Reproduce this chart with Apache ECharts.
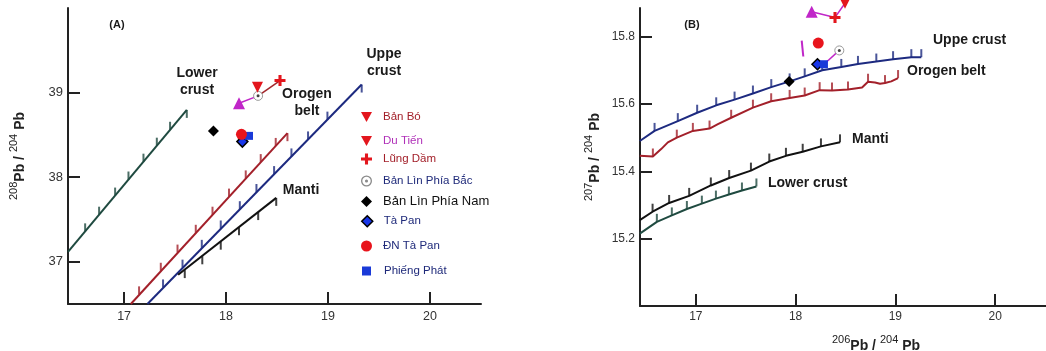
<!DOCTYPE html>
<html><head><meta charset="utf-8">
<script src="https://cdn.jsdelivr.net/npm/echarts@6/dist/echarts.min.js"></script>
<style>html,body{margin:0;padding:0;background:#fff}#c{width:1046px;height:351px}</style>
</head><body><div id="c"></div>
<script>
// ---------- axis ticks ----------
const xTicksA = [17, 18, 19, 20];
const yTicksA = [37, 38, 39];
const xTicksB = [17, 18, 19, 20];
const yTicksB = [15.2, 15.4, 15.6, 15.8];

// ---------- samples (same order in every list) ----------
const sampleNames = ['Bản Bó', 'Du Tiến', 'Lũng Dầm', 'Bản Lìn Phía Bắc', 'Bản Lìn Phía Nam', 'Tà Pan', 'ĐN Tà Pan', 'Phiếng Phát'];
// panel A: 206Pb/204Pb, 208Pb/204Pb
const samplesA = [[18.308, 39.064], [18.127, 38.874], [18.529, 39.142], [18.314, 38.961], [17.876, 38.547], [18.16, 38.42], [18.151, 38.507], [18.225, 38.488]];
// panel B: 206Pb/204Pb, 207Pb/204Pb
const samplesB = [[18.495, 15.899], [18.161, 15.874], [18.395, 15.857], [18.438, 15.759], [17.935, 15.667], [18.219, 15.718], [18.227, 15.781], [18.284, 15.718]];
// connector pairs (indices into samples)
const linksA = [[3, 2], [3, 1]];
const linksB = [[1, 2], [2, 0], [3, 7]];
const extraSegmentB = [[18.061, 15.788], [18.077, 15.741]];

// ---------- model curves, panel A ----------
const lowerCrustA = [[16.45, 37.116], [17.615, 38.795]];
const lowerCrustATicks = [[16.618, 37.359], [16.755, 37.556], [16.912, 37.782], [17.043, 37.972], [17.19, 38.183], [17.321, 38.372], [17.451, 38.56], [17.615, 38.795]];
const orogenA = [[17.066, 36.5], [18.602, 38.52]];
const orogenATicks = [[17.147, 36.614], [17.36, 36.893], [17.524, 37.108], [17.703, 37.342], [17.867, 37.556], [18.029, 37.77], [18.193, 37.985], [18.34, 38.178], [18.487, 38.369], [18.602, 38.52]];
const upperA = [[17.229, 36.5], [19.33, 39.095]];
const upperATicks = [[17.382, 36.696], [17.573, 36.93], [17.762, 37.164], [17.948, 37.393], [18.135, 37.621], [18.298, 37.824], [18.471, 38.036], [18.641, 38.245], [18.804, 38.446], [18.994, 38.68], [19.33, 39.095]];
const mantiA = [[17.53, 36.845], [18.492, 37.755]];
const mantiATicks = [[17.595, 36.901], [17.767, 37.064], [17.948, 37.237], [18.127, 37.408], [18.315, 37.587], [18.492, 37.755]];

// ---------- model curves, panel B ----------
const upperB = [[16.438, 15.490], [16.586, 15.520], [16.819, 15.549], [17.013, 15.574], [17.204, 15.596], [17.388, 15.613], [17.572, 15.631], [17.756, 15.650], [17.940, 15.667], [18.091, 15.682], [18.267, 15.700], [18.458, 15.710], [18.625, 15.719], [18.809, 15.726], [18.977, 15.733], [19.160, 15.739], [19.260, 15.739]];
const orogenB = [[16.438, 15.446], [16.569, 15.444], [16.652, 15.466], [16.719, 15.486], [16.809, 15.500], [16.970, 15.520], [17.137, 15.527], [17.221, 15.540], [17.354, 15.559], [17.572, 15.589], [17.755, 15.608], [17.940, 15.618], [18.091, 15.625], [18.241, 15.641], [18.365, 15.640], [18.525, 15.643], [18.666, 15.649], [18.726, 15.666], [18.796, 15.664], [18.846, 15.660], [18.896, 15.662], [18.959, 15.667], [19.027, 15.677]];
const orogenBTicks = [[16.569, 15.444], [16.809, 15.500], [16.970, 15.520], [17.137, 15.527], [17.354, 15.559], [17.572, 15.589], [17.755, 15.608], [17.940, 15.618], [18.091, 15.625], [18.241, 15.641], [18.365, 15.640], [18.525, 15.643], [18.726, 15.666], [18.896, 15.662], [19.027, 15.677]];
const mantiB = [[16.438, 15.255], [16.566, 15.280], [16.732, 15.306], [16.933, 15.327], [17.15, 15.358], [17.334, 15.380], [17.552, 15.402], [17.736, 15.429], [17.903, 15.446], [18.071, 15.458], [18.254, 15.474], [18.445, 15.486]];
const lowerCrustB = [[16.438, 15.215], [16.609, 15.250], [16.759, 15.269], [16.910, 15.288], [17.060, 15.304], [17.201, 15.319], [17.331, 15.331], [17.462, 15.343], [17.607, 15.355]];

// ---------- styles ----------
const FONT = '"Liberation Sans", Arial, sans-serif';
const C_GREEN = '#1f4a40', C_RED = '#a3202a', C_BLUE = '#1d2a80', C_BLACK = '#111';
const TICK = 'path://M0,0L2,0L2,10L0,10Z';
const DOWN_TRI = 'path://M0,0L10,0L5,9Z';
const CROSS = 'path://M3.6,0H6.4V3.6H10V6.4H6.4V10H3.6V6.4H0V3.6H3.6Z';
const RINGDOT = 'path://M5,0A5,5,0,1,1,4.99,0ZM5,1.2A3.8,3.8,0,1,0,5.01,1.2ZM5,3.6A1.4,1.4,0,1,1,4.99,3.6Z';
const markerStyle = [
  { symbol: DOWN_TRI, size: 11, color: '#e3161d' },
  { symbol: 'triangle', size: 12, color: '#c026c8' },
  { symbol: CROSS, size: 11, color: '#e3161d' },
  { symbol: 'circle', size: 9, color: '#fff', border: '#999', bw: 1 },
  { symbol: 'diamond', size: 11, color: '#000' },
  { symbol: 'diamond', size: 11, color: '#1836e8', border: '#000', bw: 1.5 },
  { symbol: 'circle', size: 11, color: '#e8141c' },
  { symbol: 'rect', size: 8, color: '#1a3ad8' }
];
const drawOrder = [5, 7, 6, 4, 3, 1, 0, 2];
const legendIcon = [DOWN_TRI, DOWN_TRI, CROSS, RINGDOT, 'diamond', 'diamond', 'circle', 'rect'];
const legendIconColor = ['#e3161d', '#e3161d', '#e3161d', '#8a8a8a', '#000', '#1836e8', '#e8141c', '#1a3ad8'];
const legendTextColor = ['#a3202a', '#b030b8', '#a3202a', '#1f2a7a', '#111', '#1f2a7a', '#1f2a7a', '#1f2a7a'];
const legendRowY = [118, 142, 160, 182, 202, 222, 247, 272];

function curve(grid, line, ticks, color, dir, endDir) {
  return [
    { type: 'line', xAxisIndex: grid, yAxisIndex: grid, data: line, symbol: 'none', silent: true, z: 2,
      lineStyle: { color: color, width: 2 } },
    { type: 'scatter', xAxisIndex: grid, yAxisIndex: grid, silent: true, z: 2, symbol: TICK, symbolSize: [2, 8],
      itemStyle: { color: color },
      data: ticks.map((p, i) => ({ value: p, symbolOffset: [0, 4 * (i === ticks.length - 1 ? endDir : dir)] })) }
  ];
}

const series = [];
series.push(...curve(0, lowerCrustA, lowerCrustATicks, C_GREEN, -1, 1));
series.push(...curve(0, orogenA, orogenATicks, C_RED, -1, 1));
series.push(...curve(0, upperA, upperATicks, C_BLUE, -1, 1));
series.push(...curve(0, mantiA, mantiATicks, C_BLACK, 1, 1));
series.push(...curve(1, upperB, upperB.slice(1), C_BLUE, -1, -1));
series.push(...curve(1, orogenB, orogenBTicks, C_RED, -1, -1));
series.push(...curve(1, mantiB, mantiB.slice(1), C_BLACK, -1, -1));
series.push(...curve(1, lowerCrustB, lowerCrustB.slice(1), C_GREEN, -1, -1));

// connectors
const linkColorsA = ['#a3282c', '#c026c8'];
linksA.forEach((pr, k) => series.push({ type: 'line', xAxisIndex: 0, yAxisIndex: 0, silent: true, z: 3, symbol: 'none',
  data: [samplesA[pr[0]], samplesA[pr[1]]], lineStyle: { color: linkColorsA[k], width: 1.5 } }));
linksB.forEach(pr => series.push({ type: 'line', xAxisIndex: 1, yAxisIndex: 1, silent: true, z: 3, symbol: 'none', clip: false,
  data: [samplesB[pr[0]], samplesB[pr[1]]], lineStyle: { color: '#c026c8', width: 1.5 } }));
series.push({ type: 'line', xAxisIndex: 1, yAxisIndex: 1, silent: true, z: 3, symbol: 'none',
  data: extraSegmentB, lineStyle: { color: '#c026c8', width: 2 } });

// sample markers
[[0, samplesA], [1, samplesB]].forEach(([g, pts]) => {
  drawOrder.forEach(i => {
    const m = markerStyle[i];
    series.push({ type: 'scatter', name: sampleNames[i], xAxisIndex: g, yAxisIndex: g, z: 4, clip: false,
      symbol: m.symbol, symbolSize: m.size,
      itemStyle: { color: m.color, borderColor: m.border || m.color, borderWidth: m.bw || 0, opacity: 1 },
      data: [pts[i]] });
    if (i === 3) {
      series.push({ type: 'scatter', name: 'dot', xAxisIndex: g, yAxisIndex: g, z: 4, silent: true, clip: false,
        symbol: 'circle', symbolSize: 3, itemStyle: { color: '#111' }, data: [pts[i]] });
    }
  });
});

const legends = sampleNames.map((n, i) => ({
  left: i === 7 ? 362 : 361, top: legendRowY[i] - 7, padding: 0, orient: 'vertical', selectedMode: false,
  itemWidth: i === 7 ? 9 : 11, itemHeight: i === 7 ? 9 : 11,
  textStyle: { fontFamily: FONT, fontSize: 11.5, padding: [0, 0, 0, i === 7 ? 8 : 6] },
  data: [{ name: n, icon: legendIcon[i],
    itemStyle: { color: legendIconColor[i], borderWidth: i === 5 ? 1.5 : 0, borderColor: '#000' },
    textStyle: { color: legendTextColor[i], fontSize: i === 4 ? 13 : 11.5 } }]
}));

const axisLineStyle = { color: '#222', width: 2 };
function valueAxis(grid, min, max, ticks, extra) {
  return Object.assign({
    type: 'value', gridIndex: grid, min: min, max: max, scale: true,
    axisLine: { show: true, onZero: false, lineStyle: axisLineStyle },
    axisTick: { show: true, inside: true, length: 12, customValues: ticks, lineStyle: axisLineStyle },
    axisLabel: { customValues: ticks, color: '#333', fontFamily: FONT, fontSize: 12.5 },
    splitLine: { show: false }
  }, extra);
}
const titleRich = {
  s: { fontSize: 11, fontWeight: 'normal', verticalAlign: 'top', lineHeight: 10, color: '#222', fontFamily: FONT },
  b: { fontSize: 14, fontWeight: 'bold', lineHeight: 24, color: '#222', fontFamily: FONT }
};

const txt = (x, y, t, size, align) => ({ type: 'text', x: x, y: y, silent: true,
  style: { text: t, font: 'bold ' + size + 'px ' + FONT, fill: '#1a1a1a', align: align || 'center', verticalAlign: 'middle', lineHeight: 17 } });

const option = {
  animation: false,
  backgroundColor: '#fff',
  grid: [
    { left: 68, top: 8, width: 413, height: 296, outerBoundsMode: 'none', containLabel: false },
    { left: 640, top: 8, width: 406, height: 298, outerBoundsMode: 'none', containLabel: false }
  ],
  xAxis: [
    valueAxis(0, 16.45, 20.5, xTicksA, { axisLabel: { customValues: xTicksA, color: '#333', fontFamily: FONT, fontSize: 12.5, margin: 6 } }),
    valueAxis(1, 16.44, 20.51, xTicksB, {
      axisLabel: { customValues: xTicksB, color: '#333', fontFamily: FONT, fontSize: 12, margin: 5 },
      name: '{s|206}{b|Pb} / {s|204} {b|Pb}', nameLocation: 'middle', nameGap: 28,
      nameTextStyle: { color: '#222', fontSize: 14, fontWeight: 'bold', fontFamily: FONT, padding: [0, 0, 0, 66], rich: titleRich }
    })
  ],
  yAxis: [
    valueAxis(0, 36.5, 40, yTicksA, {
      axisLabel: { customValues: yTicksA, color: '#333', fontFamily: FONT, fontSize: 13, margin: 5 },
      name: '{s|208}{b|Pb} / {s|204} {b|Pb}', nameLocation: 'middle', nameGap: 36,
      nameTextStyle: { color: '#222', fontSize: 14, fontWeight: 'bold', fontFamily: FONT, rich: titleRich }
    }),
    valueAxis(1, 15.0, 15.885, yTicksB, {
      axisLabel: { customValues: yTicksB, color: '#333', fontFamily: FONT, fontSize: 12, margin: 5 },
      name: '{s|207}{b|Pb} / {s|204} {b|Pb}', nameLocation: 'middle', nameGap: 33,
      nameTextStyle: { color: '#222', fontSize: 14, fontWeight: 'bold', fontFamily: FONT, rich: titleRich }
    })
  ],
  legend: legends,
  graphic: [
    txt(117, 25, '(A)', 11), txt(692, 25, '(B)', 11),
    txt(197, 82, 'Lower\ncrust', 14), txt(384, 63, 'Uppe\ncrust', 14),
    txt(307, 103, 'Orogen\nbelt', 14), txt(301, 190, 'Manti', 14),
    txt(933, 40, 'Uppe crust', 14, 'left'), txt(907, 71, 'Orogen belt', 14, 'left'),
    txt(852, 139, 'Manti', 14, 'left'), txt(768, 183, 'Lower crust', 14, 'left')
  ],
  series: series
};
const chart = echarts.init(document.getElementById('c'), null, { renderer: 'canvas' });
chart.setOption(option);
</script></body></html>
